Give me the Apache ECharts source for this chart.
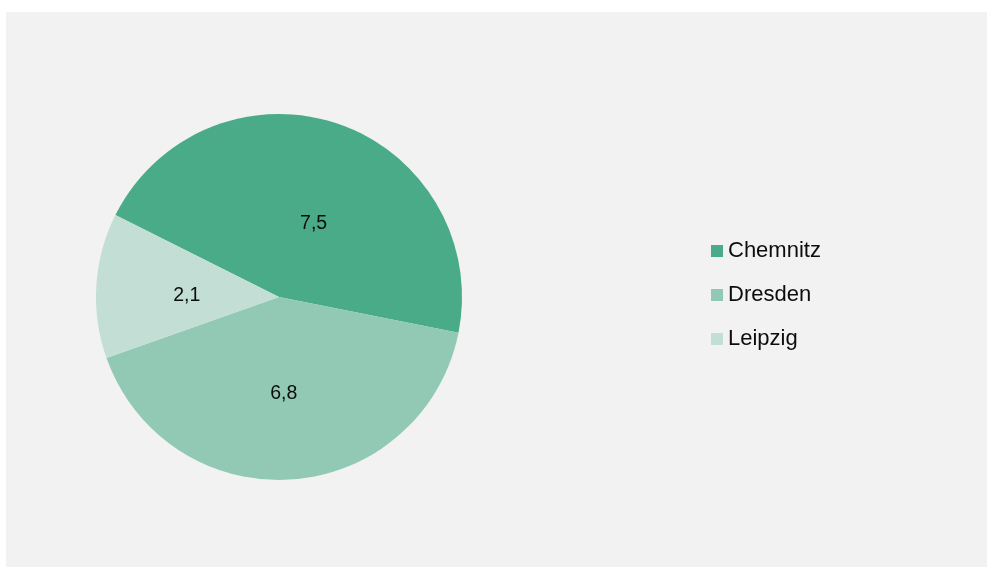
<!DOCTYPE html>
<html>
<head>
<meta charset="utf-8">
<script src="https://cdn.jsdelivr.net/npm/echarts@6/dist/echarts.min.js"></script>
<style>
  html, body { margin: 0; padding: 0; background: #ffffff; }
  #chart { position: absolute; left: 6px; top: 12px; width: 981px; height: 555px; }
</style>
</head>
<body>
<div id="chart"></div>
<script>
// Städte und Werte
const cities = ['Chemnitz', 'Dresden', 'Leipzig'];
const values = [7.5, 6.8, 2.1];
const colors = ['#4aab89', '#91c9b5', '#c3ded4'];
// Feinjustierung der Beschriftungen innerhalb der Segmente
const labelOffsets = [[4, 16], [-2, 2], [2, 4]];

const chart = echarts.init(document.getElementById('chart'), null, { renderer: 'canvas' });

const fontFamily = 'Liberation Sans, Arial, sans-serif';

chart.setOption({
  backgroundColor: '#f2f2f2',
  animation: false,
  color: colors,
  legend: {
    orient: 'vertical',
    left: 700,
    top: 223,
    itemWidth: 12,
    itemHeight: 12,
    itemGap: 22,
    icon: 'rect',
    selectedMode: false,
    textStyle: { fontFamily: fontFamily, fontSize: 22, color: '#0d0d0d' },
    data: cities
  },
  series: [{
    type: 'pie',
    center: [273, 285],
    radius: [0, 183],
    startAngle: 153.4,
    clockwise: true,
    silent: true,
    label: {
      position: 'inside',
      fontFamily: fontFamily,
      fontSize: 19.5,
      color: '#0d0d0d',
      formatter: p => String(p.value).replace('.', ',')
    },
    labelLine: { show: false },
    itemStyle: { borderWidth: 0 },
    data: cities.map((c, i) => ({
      name: c,
      value: values[i],
      label: { offset: labelOffsets[i] }
    }))
  }]
});
</script>
</body>
</html>
